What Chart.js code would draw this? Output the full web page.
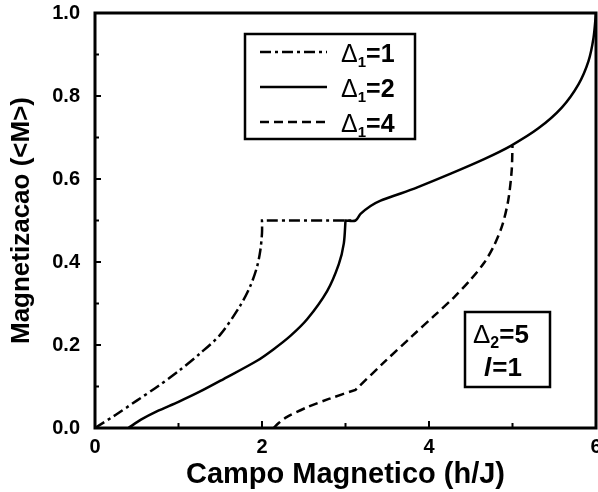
<!DOCTYPE html>
<html>
<head>
<meta charset="utf-8">
<script src="https://cdn.jsdelivr.net/npm/chart.js@4.4.0/dist/chart.umd.min.js"></script>
<style>
  html, body { margin: 0; padding: 0; background: #fff; }
  #wrap { width: 598px; height: 492px; }
</style>
</head>
<body>
<div id="wrap"><canvas id="chart" width="598" height="492"></canvas></div>
<script>
// Data
const xTicks = [0, 2, 4, 6];
const yTicks = [0, 0.2, 0.4, 0.6, 0.8, 1.0];
const deltaValues = [1, 2, 4];

// corner points are repeated so the curve keeps a sharp corner there
const d1x = [0, 0.25, 0.5, 0.75, 1.0, 1.26, 1.5, 1.74, 1.86, 1.94, 1.98, 2.0, 2.0, 2.0, 3.12];
const d1y = [0, 0.032, 0.066, 0.1, 0.137, 0.18, 0.225, 0.295, 0.342, 0.388, 0.428, 0.47, 0.5, 0.5, 0.5];

const d2x = [0.4, 0.55, 0.74, 1.0, 1.26, 1.54, 1.94, 2.14, 2.34, 2.54, 2.78, 2.92, 2.98, 3.0, 3.0, 3.12, 3.18, 3.3, 3.42, 3.66, 3.86, 4.26, 4.66, 4.98, 5.31, 5.59, 5.79, 5.91, 5.97, 6.0];
const d2y = [0, 0.02, 0.04, 0.063, 0.088, 0.118, 0.162, 0.19, 0.222, 0.262, 0.33, 0.395, 0.445, 0.5, 0.5, 0.5, 0.516, 0.535, 0.548, 0.565, 0.58, 0.613, 0.648, 0.68, 0.722, 0.772, 0.828, 0.884, 0.94, 1.0];

const d4x = [2.14, 2.2, 2.3, 2.54, 2.8, 3.12, 3.12, 3.46, 3.8, 4.06, 4.3, 4.5, 4.66, 4.78, 4.88, 4.95, 4.99, 5.0];
const d4y = [0, 0.012, 0.027, 0.05, 0.07, 0.092, 0.092, 0.158, 0.222, 0.27, 0.315, 0.358, 0.398, 0.44, 0.49, 0.55, 0.62, 0.68];

const FONT = "'Liberation Sans', Arial, sans-serif";

function pts(xs, ys) {
  return xs.map((x, i) => ({ x: x, y: ys[i] }));
}

// frame, inward ticks, legend and the parameter box
const decor = {
  id: 'decor',
  afterDraw(chart) {
    const ctx = chart.ctx;
    const a = chart.chartArea;
    const xs = chart.scales.x, ys = chart.scales.y;
    ctx.save();
    ctx.strokeStyle = '#000';
    ctx.setLineDash([]);

    // inward ticks (major + minor)
    ctx.lineWidth = 2;
    for (let v = 0; v <= 6; v++) {
      const px = xs.getPixelForValue(v);
      const len = (v % 2 === 0) ? 7 : 5;
      ctx.beginPath(); ctx.moveTo(px, a.bottom); ctx.lineTo(px, a.bottom - len); ctx.stroke();
    }
    for (let i = 0; i <= 10; i++) {
      const py = ys.getPixelForValue(i / 10);
      const len = (i % 2 === 0) ? 6 : 4;
      ctx.beginPath(); ctx.moveTo(a.left, py); ctx.lineTo(a.left + len, py); ctx.stroke();
    }

    // frame
    ctx.lineWidth = 3;
    ctx.strokeRect(a.left, a.top, a.right - a.left, a.bottom - a.top);

    // legend
    ctx.lineWidth = 2.5;
    ctx.strokeRect(245, 34, 170, 105);
    chart.data.datasets.forEach((ds, i) => {
      const y = 52 + i * 35;
      ctx.save();
      ctx.lineWidth = 2.5;
      ctx.setLineDash(ds.borderDash || []);
      ctx.beginPath(); ctx.moveTo(260, y); ctx.lineTo(327, y); ctx.stroke();
      ctx.restore();
      drawDelta(ctx, 341, y + 10, '1', '=' + deltaValues[i], 25);
    });

    // parameter box
    ctx.lineWidth = 2.5;
    ctx.strokeRect(465, 312, 85, 75);
    drawDelta(ctx, 473, 343, '2', '=5', 26);
    ctx.fillStyle = '#000';
    ctx.textBaseline = 'alphabetic';
    ctx.font = "italic bold 26px " + FONT;
    ctx.fillText('l', 484, 376);
    const lw = ctx.measureText('l').width;
    ctx.font = "bold 26px " + FONT;
    ctx.fillText('=1', 484 + lw + 1, 376);

    ctx.restore();
  }
};

function drawDelta(ctx, x, base, sub, rest, size) {
  ctx.fillStyle = '#000';
  ctx.textBaseline = 'alphabetic';
  ctx.font = size + "px " + FONT;
  ctx.fillText('\u0394', x, base);
  x += ctx.measureText('\u0394').width;
  ctx.font = "bold " + Math.round(size * 0.6) + "px " + FONT;
  ctx.fillText(sub, x, base + 5);
  x += ctx.measureText(sub).width;
  ctx.font = "bold " + size + "px " + FONT;
  ctx.fillText(rest, x, base);
}

new Chart(document.getElementById('chart'), {
  type: 'line',
  data: {
    datasets: [
      { label: '\u03941=1', data: pts(d1x, d1y), borderColor: '#000', borderWidth: 2.5, borderDash: [11, 4, 3, 4], pointRadius: 0, tension: 0.3, fill: false },
      { label: '\u03941=2', data: pts(d2x, d2y), borderColor: '#000', borderWidth: 2.5, borderDash: [], pointRadius: 0, tension: 0.3, fill: false },
      { label: '\u03941=4', data: pts(d4x, d4y), borderColor: '#000', borderWidth: 2.5, borderDash: [9, 5], pointRadius: 0, tension: 0.3, fill: false }
    ]
  },
  options: {
    responsive: false,
    animation: false,
    layout: { padding: { left: 6, right: 2, top: 13, bottom: 0 } },
    plugins: { legend: { display: false }, tooltip: { enabled: false } },
    scales: {
      x: {
        type: 'linear', min: 0, max: 6,
        afterBuildTicks: s => { s.ticks = xTicks.map(v => ({ value: v })); },
        afterFit: s => { s.height = 64; s.paddingLeft = 0; s.paddingRight = 0; },
        grid: { display: false, drawTicks: false },
        border: { display: false },
        ticks: { color: '#000', padding: 7, maxRotation: 0, font: { family: FONT, weight: 'bold', size: 20 } },
        title: { display: true, text: 'Campo Magnetico (h/J)', color: '#000', padding: { top: 0, bottom: 0 }, font: { family: FONT, weight: 'bold', size: 29 } }
      },
      y: {
        type: 'linear', min: 0, max: 1,
        afterBuildTicks: s => { s.ticks = yTicks.map(v => ({ value: v })); },
        afterFit: s => { s.width = 89; s.paddingTop = 0; s.paddingBottom = 0; },
        grid: { display: false, drawTicks: false },
        border: { display: false },
        ticks: { color: '#000', padding: 15, callback: v => v.toFixed(1), font: { family: FONT, weight: 'bold', size: 20 } },
        title: { display: true, text: 'Magnetizacao (<M>)', color: '#000', padding: { top: 0, bottom: 0 }, font: { family: FONT, weight: 'bold', size: 26 } }
      }
    }
  },
  plugins: [decor]
});
</script>
</body>
</html>
